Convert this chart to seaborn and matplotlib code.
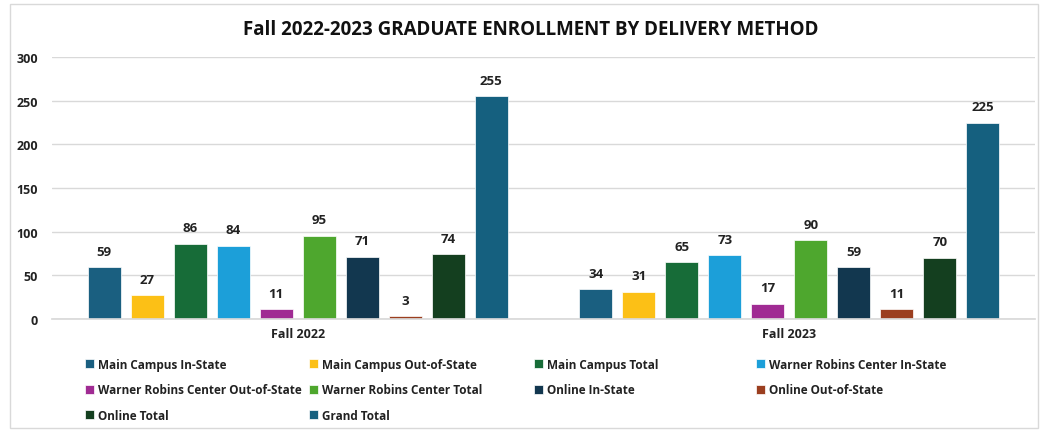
import matplotlib
matplotlib.use("Agg")
import matplotlib.pyplot as plt
import seaborn as sns
import pandas as pd
from matplotlib.patches import Rectangle

terms = ["Fall 2022", "Fall 2023"]
series = ["Main Campus In-State", "Main Campus Out-of-State", "Main Campus Total",
          "Warner Robins Center In-State", "Warner Robins Center Out-of-State",
          "Warner Robins Center Total", "Online In-State", "Online Out-of-State",
          "Online Total", "Grand Total"]
fall2022 = [59, 27, 86, 84, 11, 95, 71, 3, 74, 255]
fall2023 = [34, 31, 65, 73, 17, 90, 59, 11, 70, 225]
colors = ["#1a5f80", "#fcc016", "#176c38", "#1c9fd9", "#a02b93",
          "#4ea72e", "#12374f", "#9b3e1f", "#143f1f", "#15607f"]
yticks = [0, 50, 100, 150, 200, 250, 300]

rows = []
for s, a, b in zip(series, fall2022, fall2023):
    rows.append({"term": terms[0], "series": s, "value": a})
    rows.append({"term": terms[1], "series": s, "value": b})
df = pd.DataFrame(rows)

sns.set_theme(style="white")
plt.rcParams['font.family'] = ['Open Sans', 'DejaVu Sans']

fig = plt.figure(figsize=(10.4, 4.31), dpi=100)
ax = fig.add_axes([52 / 1040, 1 - 320 / 431, 983 / 1040, 262 / 431])

sns.barplot(data=df, x="term", y="value", hue="series", hue_order=series,
            order=terms, palette=colors, width=0.875, gap=0.23, ax=ax, legend=True,
            saturation=1, edgecolor="white", linewidth=0.5)

for cont in ax.containers:
    ax.bar_label(cont, fmt="%d", padding=7, fontsize=9.5, fontweight="bold", color="#222222")

ax.set_ylim(0, 300)
ax.set_yticks(yticks)
ax.set_yticklabels([str(v) for v in yticks], fontsize=9, fontweight="bold", color="#222222")
ax.tick_params(axis="x", labelsize=9, colors="#222222", length=0, pad=6)
ax.tick_params(axis="y", length=0, pad=10)
for lab in ax.get_xticklabels():
    lab.set_fontweight("bold")
ax.set_xlabel("")
ax.set_ylabel("")
ax.yaxis.grid(True, color="#d9d9d9", linewidth=1)
ax.set_axisbelow(True)
for sp in ["top", "right", "left"]:
    ax.spines[sp].set_visible(False)
ax.spines["bottom"].set_color("#d9d9d9")
ax.set_xlim(-0.5, 1.5)

handles, labels = ax.get_legend_handles_labels()
ax.legend_.remove()
col_x = [80, 304, 529, 751]
for c in range(4):
    idx = list(range(c, len(handles), 4))
    leg = fig.legend([handles[i] for i in idx], [labels[i] for i in idx],
                     loc="upper left", bbox_to_anchor=(col_x[c] / 1040, 1 - 354 / 431),
                     ncol=1, frameon=False, prop={"weight": "bold", "size": 8.5},
                     handlelength=0.8, handleheight=0.8, handletextpad=0.3,
                     labelspacing=1.05, borderaxespad=0)
    for t in leg.get_texts():
        t.set_color("#222222")

fig.text(0.51, 0.93, "Fall 2022-2023 GRADUATE ENROLLMENT BY DELIVERY METHOD",
         ha="center", va="center", fontsize=13.5, fontweight="bold", color="#111111")

fig.patches.append(Rectangle((10 / 1040, 2 / 431), 1028 / 1040, 424 / 431, transform=fig.transFigure,
                             fill=False, edgecolor="#d9d9d9", linewidth=1))

fig.savefig("out.png", dpi=100)
